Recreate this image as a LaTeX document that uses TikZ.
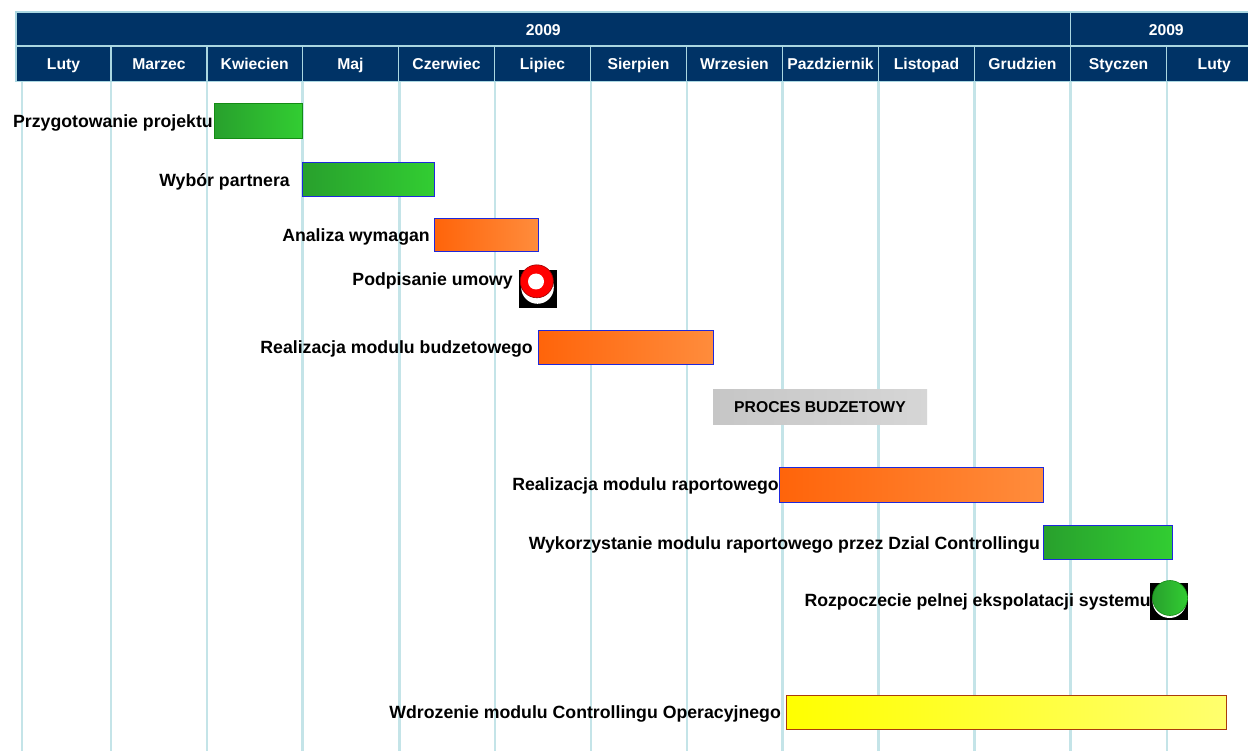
\documentclass[tikz,border=0pt]{standalone}
\usepackage{fontspec}
\setmainfont{Liberation Sans}
\definecolor{navy}{RGB}{0,51,102}
\definecolor{hdrline}{RGB}{170,215,225}
\definecolor{gridc}{RGB}{196,228,232}
\definecolor{gL}{RGB}{40,160,45}
\definecolor{gR}{RGB}{50,205,50}
\definecolor{oL}{RGB}{255,100,10}
\definecolor{oR}{RGB}{255,140,60}
\definecolor{yL}{RGB}{255,255,0}
\definecolor{yR}{RGB}{255,255,110}
\definecolor{grL}{RGB}{198,198,198}
\definecolor{grR}{RGB}{214,214,214}
\definecolor{blueb}{RGB}{30,40,220}
\definecolor{greenb}{RGB}{20,140,20}
\definecolor{brownb}{RGB}{170,60,10}
\newcommand{\ganttbox}[7]{\node[#2, anchor=north west, inner sep=0pt, outer sep=0pt, minimum width={#5-#3}, minimum height={#6-#4}] (#1) at (#3,#4) {#7};}
\begin{document}
\begin{tikzpicture}[x=1pt,y=-1pt,
  hdr/.style={draw=hdrline, line width=1.6pt, fill=navy, text=white, text height=14pt, text depth=1.8pt, font=\fontsize{15.7}{18}\selectfont\bfseries},
  lbl/.style={anchor=east, inner sep=0pt, text height=14pt, text depth=2.8pt, font=\fontsize{17.7}{20}\selectfont\bfseries},
  gridln/.style={draw=gridc, line width=2.6pt},
  gbar/.style={left color=gL, right color=gR, draw=blueb, line width=1pt},
  gbarg/.style={left color=gL, right color=gR, draw=greenb, line width=1pt},
  obar/.style={left color=oL, right color=oR, draw=blueb, line width=1pt},
  ybar/.style={left color=yL, right color=yR, draw=brownb, line width=1pt},
  greybox/.style={left color=grL, right color=grR, text height=14pt, text depth=1.8pt, font=\fontsize{15.7}{18}\selectfont\bfseries},
]
\useasboundingbox (0,0) rectangle (1248,751);
\clip (0,0) rectangle (1248,751);
\fill[white] (0,0) rectangle (1248,751);
% grid lines
\foreach \gx [count=\i] in {22,111,207,302.5,399.5,495,591,687,782.5,878.5,974.5,1070.5,1167}{
  \coordinate (gt\i) at (\gx,81);
  \coordinate (gb\i) at (\gx,751);
  \draw[gridln] (gt\i) -- (gb\i);
}
% header
\ganttbox{yr1}{hdr}{16}{12}{1070.5}{46}{2009}
\ganttbox{yr2}{hdr}{1070.5}{12}{1262}{46}{2009}
\foreach \a/\b/\n [count=\i] in {16/111/Luty,111/207/Marzec,207/302.5/Kwiecien,302.5/398.5/Maj,398.5/494.5/Czerwiec,494.5/590.5/Lipiec,590.5/686.5/Sierpien,686.5/782.5/Wrzesien,782.5/878.5/Pazdziernik,878.5/974.5/Listopad,974.5/1070.5/Grudzien,1070.5/1166.5/Styczen,1166.5/1262/Luty}{
  \ganttbox{mo\i}{hdr}{\a}{46}{\b}{81.5}{\n}
}
% bars
\ganttbox{b1}{gbarg}{214}{104}{302}{139}{}
\ganttbox{b2}{gbar}{302}{163}{434.5}{197}{}
\ganttbox{b3}{obar}{434.5}{219}{538}{252}{}
\ganttbox{b5}{obar}{538}{331}{713}{365}{}
\ganttbox{pb}{greybox}{713}{389}{927}{424}{PROCES BUDZETOWY}
\ganttbox{b6}{obar}{779}{467}{1043}{502}{}
\ganttbox{b7}{gbar}{1043}{525.5}{1172}{559.5}{}
\ganttbox{b9}{ybar}{786}{695}{1226}{729}{}
% milestone 1
\fill[black] (519,270) rectangle (557,308);
\fill[white] (537.5,287.5) circle (16.3);
\node[circle, fill=red, draw=red!60!black, line width=0.6pt, minimum size=33, inner sep=0pt] (m1) at (536.8,281.3) {};
\node[circle, fill=white, minimum size=16, inner sep=0pt] (m1h) at (536,281.5) {};
% milestone 2
\fill[black] (1150,583) rectangle (1188,620);
\fill[white] (1169.5,601) circle (17);
\node[circle, left color=gL, right color=gR, draw=greenb, line width=0.6pt, minimum size=35, inner sep=0pt] (m2) at (1170,598) {};
% labels
\node[lbl] (l1) at (213,121.5) {Przygotowanie projektu};
\node[lbl] (l2) at (290,180.5) {Wybór partnera};
\node[lbl] (l3) at (430,236) {Analiza wymagan};
\node[lbl] (l4) at (513,280) {Podpisanie umowy};
\node[lbl] (l5) at (533,348) {Realizacja modulu budzetowego};
\node[lbl] (l6) at (779,485) {Realizacja modulu raportowego};
\node[lbl] (l7) at (1040,543.5) {Wykorzystanie modulu raportowego przez Dzial Controllingu};
\node[lbl] (l8) at (1151,601) {Rozpoczecie pelnej ekspolatacji systemu};
\node[lbl] (l9) at (781,713) {Wdrozenie modulu Controllingu Operacyjnego};
\end{tikzpicture}
\end{document}
